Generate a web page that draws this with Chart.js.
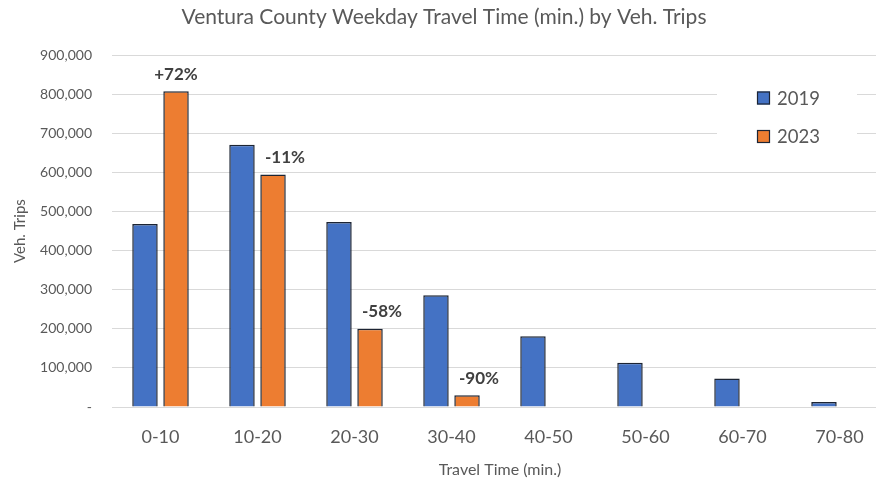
<!DOCTYPE html>
<html>
<head>
<meta charset="utf-8">
<script src="https://cdn.jsdelivr.net/npm/chart.js@4/dist/chart.umd.min.js"></script>
<style>
  html, body { margin: 0; padding: 0; background: #fff; overflow: hidden; width: 876px; height: 486px; }
  canvas { display: block; }
</style>
</head>
<body>
<canvas id="c" width="892" height="486"></canvas>
<script>
const categories = ['0-10', '10-20', '20-30', '30-40', '40-50', '50-60', '60-70', '70-80'];
const trips2019 = [468000, 671000, 473000, 286000, 181000, 113000, 73000, 13000];
const trips2023 = [808000, 595000, 200000, 30000, 0, 0, 0, 0];
const changeLabels = ['+72%', '-11%', '-58%', '-90%', '', '', '', ''];
const seriesNames = ['2019', '2023'];
const chartTitle = 'Ventura County Weekday Travel Time (min.) by Veh. Trips';
const xTitle = 'Travel Time (min.)';
const yTitle = 'Veh. Trips';

const BLUE = '#4472C4', ORANGE = '#ED7D31', EDGE = '#1c2433', TEXT = '#595959';
const FONT = 'Lato, "Open Sans", sans-serif';

const changePlugin = {
  id: 'changeLabels',
  afterDatasetsDraw(chart, args, opts) {
    const meta = chart.getDatasetMeta(1);
    const ctx = chart.ctx;
    ctx.save();
    ctx.font = 'bold 17px ' + FONT;
    ctx.fillStyle = '#404040';
    ctx.textAlign = 'center';
    ctx.textBaseline = 'middle';
    meta.data.forEach((bar, i) => {
      const t = changeLabels[i];
      if (!t) return;
      const dx = i === 0 ? opts.firstDx : opts.dx;
      ctx.fillText(t, bar.x + dx, bar.y - opts.dy);
    });
    ctx.restore();
  }
};

const legendPlugin = {
  id: 'insideLegend',
  afterDraw(chart, args, opts) {
    const ctx = chart.ctx;
    ctx.save();
    ctx.fillStyle = '#fff';
    ctx.fillRect(opts.x - 40, opts.y - 20, 140, 80);
    ctx.font = '18.5px ' + FONT;
    ctx.textBaseline = 'middle';
    ctx.textAlign = 'left';
    chart.data.datasets.forEach((ds, i) => {
      const cy = opts.y + i * opts.gap;
      ctx.fillStyle = ds.backgroundColor;
      ctx.fillRect(opts.x, cy - 6.5, 13, 13);
      ctx.strokeStyle = EDGE;
      ctx.lineWidth = 1.2;
      ctx.strokeRect(opts.x + 0.5, cy - 6, 12, 12);
      ctx.fillStyle = TEXT;
      ctx.fillText(ds.label, opts.x + 20, cy + 1);
    });
    ctx.restore();
  }
};

new Chart(document.getElementById('c'), {
  type: 'bar',
  data: {
    labels: categories,
    datasets: [
      { label: seriesNames[0], data: trips2019, backgroundColor: BLUE, borderColor: EDGE, borderWidth: 1.5 },
      { label: seriesNames[1], data: trips2023, backgroundColor: ORANGE, borderColor: EDGE, borderWidth: 1.5 }
    ]
  },
  options: {
    responsive: false,
    animation: false,
    devicePixelRatio: 1,
    layout: { padding: { left: 0, right: 4, top: 0, bottom: 0 } },
    datasets: { bar: { categoryPercentage: 0.64, barPercentage: 0.82 } },
    plugins: {
      legend: { display: false },
      tooltip: { enabled: false },
      title: {
        display: true,
        text: chartTitle,
        color: TEXT,
        font: { family: FONT, size: 21, weight: 'normal' },
        padding: { top: 5, bottom: 25 }
      },
      changeLabels: { dx: 12, firstDx: 0, dy: 17 },
      insideLegend: { x: 757, y: 98, gap: 38.5 }
    },
    scales: {
      x: {
        grid: { display: false, drawTicks: false },
        border: { display: true, color: '#d9d9d9' },
        ticks: { color: TEXT, font: { family: FONT, size: 18 }, padding: 19 },
        title: { display: true, text: xTitle, color: TEXT, font: { family: FONT, size: 16 }, padding: { top: 0, bottom: 7 } },
        afterFit(scale) { scale.height = 79; }
      },
      y: {
        min: 0, max: 900000,
        grid: { color: '#d9d9d9', drawTicks: false, lineWidth: 1 },
        border: { display: false },
        ticks: {
          stepSize: 100000,
          color: TEXT,
          font: { family: FONT, size: 14 },
          padding: 20,
          callback: v => v === 0 ? '-' : v.toLocaleString('en-US')
        },
        title: { display: true, text: yTitle, color: TEXT, font: { family: FONT, size: 15 }, padding: { top: 11, bottom: 0 } },
        afterFit(scale) { scale.width = 112; }
      }
    }
  },
  plugins: [changePlugin, legendPlugin]
});
</script>
</body>
</html>
